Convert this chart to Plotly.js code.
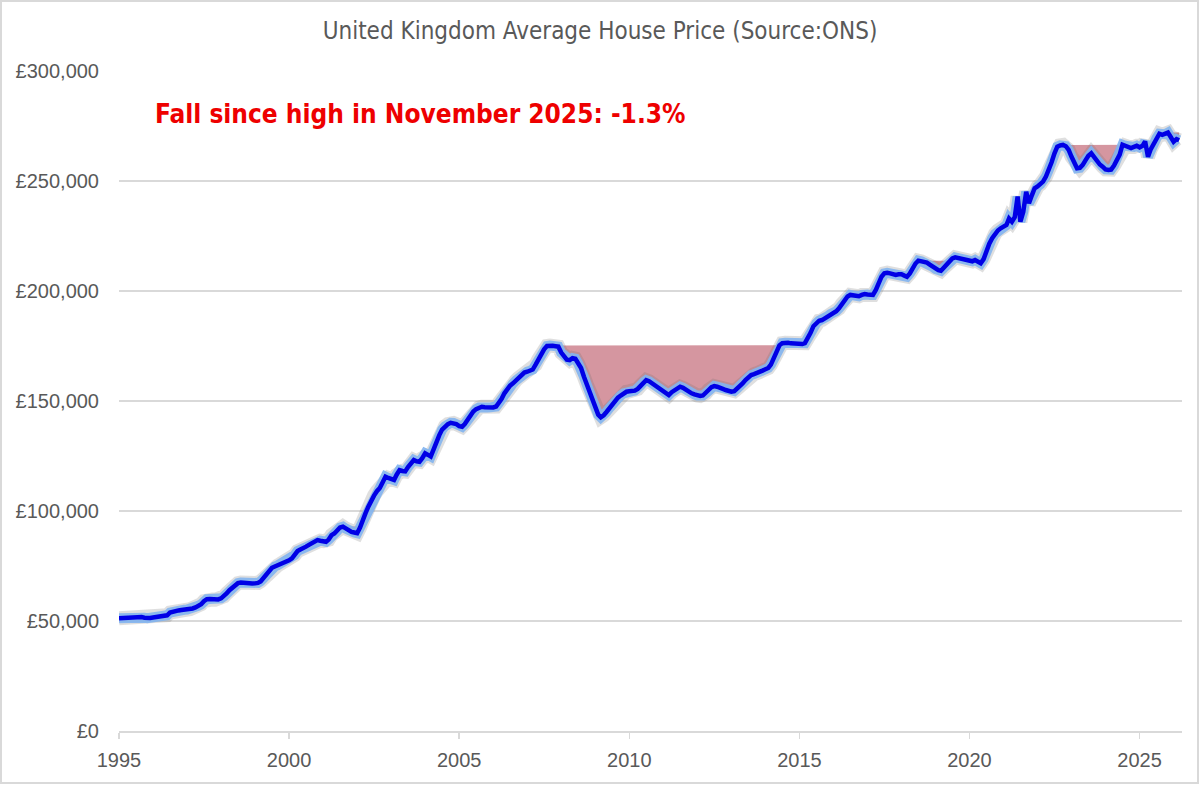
<!DOCTYPE html>
<html>
<head>
<meta charset="utf-8">
<script src="https://cdn.plot.ly/plotly-3.0.1.min.js"></script>
<style>
  html, body { margin: 0; padding: 0; background: #ffffff; }
  #wrap { position: relative; width: 1200px; height: 785px; }
  #chart { width: 1200px; height: 785px; }
  #frame { position: absolute; left: 0; top: 0; width: 1199px; height: 784px; box-sizing: border-box;
           border: 2px solid #d9d9d9; pointer-events: none; }
</style>
</head>
<body>
<div id="wrap"><div id="chart"></div><div id="frame"></div></div>
<script>
// Monthly UK average house price (GBP)
const startYear = 1995;
const p1995 = [51200, 51300, 51500, 51700, 51900, 52000, 52100, 52000, 51800, 51500, 51300, 51400];
const p1996 = [51600, 51800, 52000, 52200, 52400, 52600, 53800, 54300, 54600, 54800, 55000, 55100];
const p1997 = [55200, 55400, 55700, 56200, 56900, 57600, 59000, 59900, 60000, 59800, 59700, 59800];
const p1998 = [60300, 61200, 62500, 64000, 65200, 66300, 67200, 67500, 67300, 67000, 66900, 67000];
const p1999 = [67100, 67300, 68000, 69500, 71500, 73200, 74200, 74800, 75300, 76000, 76600, 77000];
const p2000 = [77600, 78500, 80000, 81800, 82500, 83000, 83800, 84600, 85300, 86200, 86800, 86500];
const p2001 = [86300, 86000, 87000, 89000, 89800, 91000, 92500, 92900, 92000, 91000, 90500, 90200];
const p2002 = [89900, 92500, 96000, 99000, 102000, 105000, 107000, 109000, 110500, 113000, 115600, 115000];
const p2003 = [114500, 114100, 116500, 118600, 118200, 118000, 120000, 122000, 123200, 122600, 122400, 124000];
const p2004 = [126200, 125500, 124800, 128000, 131500, 134500, 137000, 138500, 139500, 140100, 140000, 139500];
const p2005 = [138600, 138300, 139500, 141500, 143500, 145200, 146300, 147000, 147400, 147200, 147000, 147100];
const p2006 = [147100, 147500, 149000, 151000, 153500, 155800, 157000, 158000, 159300, 160500, 161300, 162900];
const p2007 = [163300, 163800, 164300, 166500, 169000, 171500, 173500, 175000, 175200, 175100, 174900, 174700];
const p2008 = [172000, 170500, 168800, 168600, 169500, 169200, 167000, 165000, 161000, 157500, 153500, 150500];
const p2009 = [146500, 143800, 142600, 143500, 145000, 146800, 148500, 150000, 151500, 152500, 153500, 154200];
const p2010 = [154400, 154500, 154700, 155500, 157000, 158500, 159500, 159000, 158000, 157000, 156300, 155500];
const p2011 = [154000, 153200, 152700, 154000, 155000, 155800, 156500, 156000, 155000, 154200, 153500, 153000];
const p2012 = [152500, 152300, 152500, 153500, 155000, 156300, 156800, 156500, 156200, 155500, 155000, 154600];
const p2013 = [154200, 154500, 155500, 157000, 158000, 159500, 161000, 161800, 162200, 162600, 163000, 163800];
const p2014 = [164400, 165000, 166500, 169400, 172500, 175300, 176300, 176500, 176500, 176200, 176000, 175800];
const p2015 = [175600, 175900, 176300, 178500, 181000, 184000, 185300, 186500, 186800, 187500, 188500, 189500];
const p2016 = [189900, 190800, 192100, 194000, 196000, 197500, 198200, 198000, 197400, 197600, 198200, 198600];
const p2017 = [198400, 198200, 198200, 200500, 203500, 206500, 208000, 208300, 208000, 207500, 207300, 207600];
const p2018 = [207600, 207000, 206500, 208000, 210500, 212500, 213800, 213500, 213000, 212900, 212000, 211000];
const p2019 = [210000, 209500, 209200, 210500, 212000, 213500, 214800, 215300, 215000, 214500, 214000, 213900];
const p2020 = [213800, 213500, 214100, 213500, 212600, 214500, 218600, 221500, 224000, 226000, 227500, 228500];
const p2021 = [229000, 230000, 233000, 231500, 233500, 242900, 231500, 236000, 245100, 239900, 243500, 246700];
const p2022 = [247500, 248500, 249700, 252000, 255000, 258500, 262500, 265600, 266200, 266400, 265800, 264100];
const p2023 = [261000, 258000, 255800, 256000, 257300, 259500, 261500, 262600, 261000, 258800, 257500, 256500];
const p2024 = [255300, 255000, 255200, 257000, 259500, 262000, 266500, 266000, 265500, 265000, 265500, 266000];
const p2025 = [265300, 266000, 268000, 261000, 264500, 267100, 269500, 271500, 271000, 271300, 272000, 270000];
const p2026 = [267800, 269000, 268500];

const xTickYears = ['1995', '2000', '2005', '2010', '2015', '2020', '2025'];
const yTicks = [0, 50000, 100000, 150000, 200000, 250000, 300000];
const yTickLabels = ['£0', '£50,000', '£100,000', '£150,000', '£200,000', '£250,000', '£300,000'];
const titleText = 'United Kingdom Average House Price (Source:ONS)';
const noteText = 'Fall since high in November 2025: -1.3%';

const prices = [].concat(p1995, p1996, p1997, p1998, p1999, p2000, p2001, p2002, p2003, p2004,
  p2005, p2006, p2007, p2008, p2009, p2010, p2011, p2012, p2013, p2014, p2015, p2016, p2017,
  p2018, p2019, p2020, p2021, p2022, p2023, p2024, p2025, p2026);

const dates = prices.map((v, i) => {
  const y = startYear + Math.floor(i / 12);
  const m = (i % 12) + 1;
  return y + '-' + (m < 10 ? '0' + m : m) + '-01';
});

let hi = -Infinity;
const runMax = prices.map(v => (hi = Math.max(hi, v)));

const traces = [
  { x: dates, y: runMax, mode: 'lines', line: { width: 0, color: 'rgba(0,0,0,0)' },
    hoverinfo: 'skip', showlegend: false },
  { x: dates, y: prices, mode: 'lines', fill: 'tonexty', fillcolor: 'rgb(213,150,160)',
    line: { width: 0, color: 'rgba(0,0,0,0)' }, hoverinfo: 'skip', showlegend: false },
  { x: dates, y: prices, mode: 'lines', line: { width: 14, color: 'rgba(110,110,110,0.22)' },
    hoverinfo: 'skip', showlegend: false },
  { x: dates, y: prices, mode: 'lines', line: { width: 10, color: 'rgba(130,180,240,0.9)' },
    hoverinfo: 'skip', showlegend: false },
  { x: dates, y: prices, mode: 'lines', line: { width: 4.5, color: '#0000e6' },
    name: 'Average price', showlegend: false }
];

const tickFont = { family: 'Liberation Sans, Arial, sans-serif', size: 20, color: '#595959' };

const layout = {
  width: 1200, height: 785,
  margin: { l: 119, r: 18, t: 71, b: 54 },
  paper_bgcolor: '#ffffff', plot_bgcolor: '#ffffff',
  showlegend: false,
  title: {
    text: titleText, xref: 'container', x: 0.5, xanchor: 'center',
    yref: 'container', y: 1 - 31 / 785, yanchor: 'middle',
    font: { family: 'Liberation Sans Narrow, DejaVu Sans Condensed, Arial Narrow, sans-serif', size: 24, color: '#595959' }
  },
  xaxis: {
    type: 'date',
    range: ['1995-01-01', '2026-04-01'],
    tickvals: xTickYears.map(y => y + '-01-01'),
    ticktext: xTickYears,
    showgrid: false, zeroline: false,
    showline: true, linecolor: '#d9d9d9', linewidth: 1.5,
    ticks: 'outside', ticklen: 6, tickcolor: '#d9d9d9', tickwidth: 1.5,
    ticklabelstandoff: 4,
    tickfont: tickFont
  },
  yaxis: {
    range: [0, 300000],
    tickvals: yTicks,
    ticktext: yTickLabels,
    showgrid: true, gridcolor: '#d9d9d9', gridwidth: 1.5,
    zeroline: false, showline: false, ticks: '',
    ticklabelstandoff: 19,
    tickfont: tickFont
  },
  annotations: [{
    text: '<b>' + noteText + '</b>',
    xref: 'paper', yref: 'paper', x: (153 - 119) / 1063, y: (731 - 114) / 660,
    xanchor: 'left', yanchor: 'middle', showarrow: false,
    font: { family: 'Liberation Sans Narrow, DejaVu Sans Condensed, Arial Narrow, sans-serif', size: 26, color: '#ee0000' }
  }]
};

Plotly.newPlot('chart', traces, layout, { displayModeBar: false, staticPlot: true });
</script>
</body>
</html>
